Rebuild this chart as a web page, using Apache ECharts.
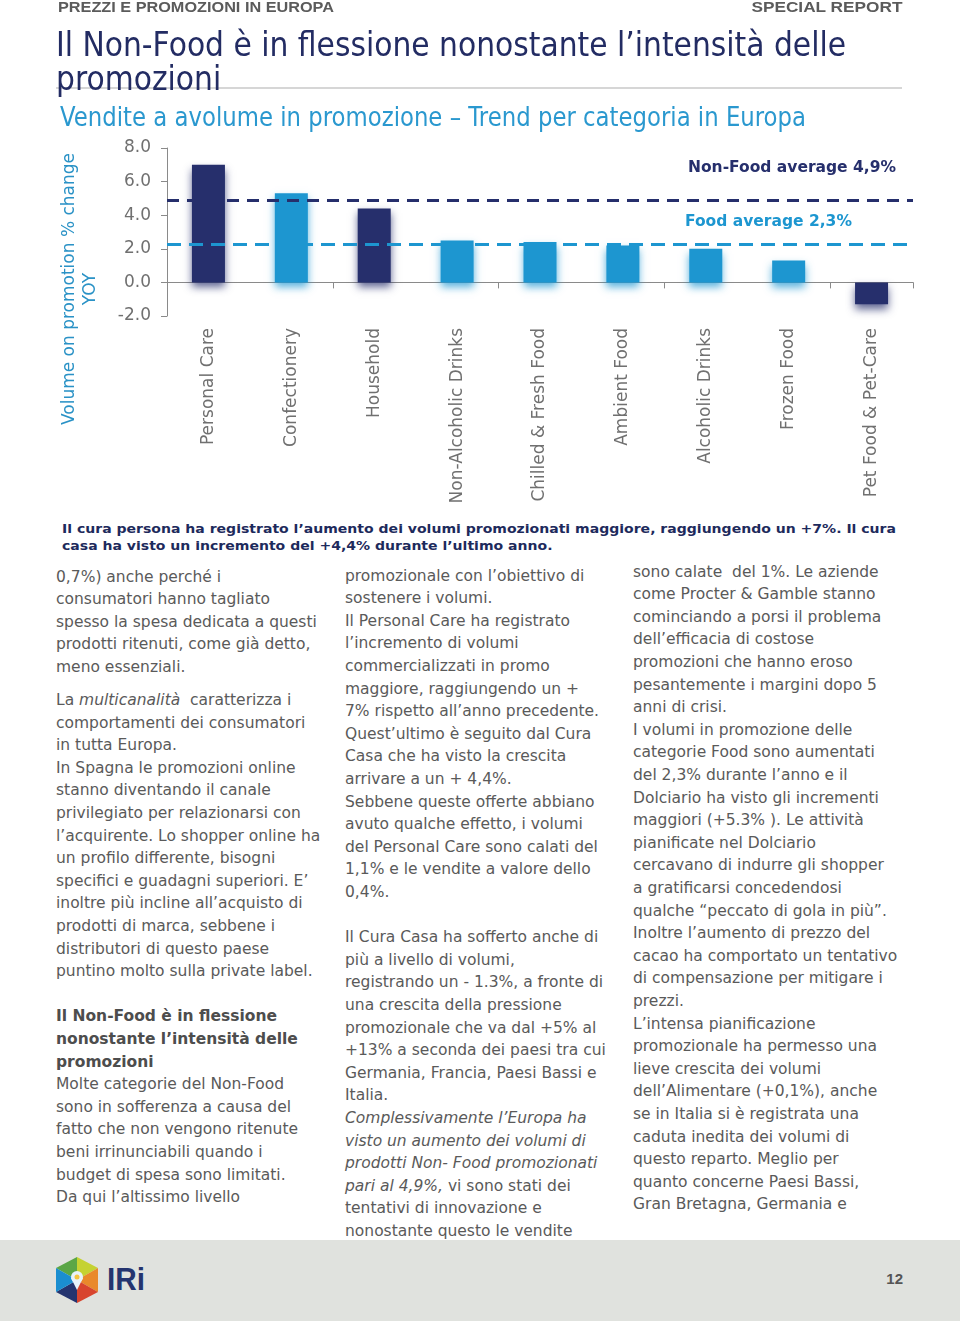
<!DOCTYPE html>
<html><head><meta charset="utf-8">
<script src="https://cdn.jsdelivr.net/npm/echarts@6/dist/echarts.min.js"></script>
<style>
html,body{margin:0;padding:0;background:#fff;}
#page{position:relative;width:960px;height:1321px;overflow:hidden;font-family:"DejaVu Sans",Verdana,sans-serif;}
#chart{position:absolute;left:0;top:0;width:960px;height:515px;}
.t{position:absolute;white-space:nowrap;}
.col{position:absolute;font-size:15.5px;line-height:22.6px;color:#5a5a5a;white-space:nowrap;}
.col b{color:#4d4d4d;}
.gap{height:10.4px;}
</style></head>
<body><div id="page">
<div id="chart"></div>

<div class="t" id="hdrL" style="left:58px;top:-1px;font:bold 15px/16px 'Liberation Sans',Arial,sans-serif;color:#5b5b5b;">PREZZI E PROMOZIONI IN EUROPA</div>
<div class="t" id="hdrR" style="right:58px;top:-1px;font:bold 15px/16px 'Liberation Sans',Arial,sans-serif;color:#5b5b5b;">SPECIAL REPORT</div>

<div style="position:absolute;left:56px;top:87px;width:846px;height:2px;background:#d6d6d6;"></div>
<div class="t" id="title1" style="left:56px;top:28px;font-size:33px;line-height:34px;color:#232c63;">Il Non-Food è in flessione nonostante l’intensità delle</div>
<div class="t" id="title2" style="left:56px;top:62px;font-size:33px;line-height:34px;color:#232c63;">promozioni</div>
<div class="t" id="subtitle" style="left:60px;top:104px;font-size:26px;line-height:26px;color:#2a98cf;">Vendite a avolume in promozione – Trend per categoria in Europa</div>

<div class="t" id="cap1" style="left:62px;top:521px;font-weight:bold;font-size:12.8px;line-height:16.5px;color:#1d2a5c;">Il cura persona ha registrato l’aumento dei volumi promozionati maggiore, raggiungendo un +7%. Il cura</div>
<div class="t" id="cap2" style="left:62px;top:537.5px;font-weight:bold;font-size:12.8px;line-height:16.5px;color:#1d2a5c;">casa ha visto un incremento del +4,4% durante l’ultimo anno.</div>

<div class="col" style="left:56px;top:565.7px;">0,7%) anche perché i<br>consumatori hanno tagliato<br>spesso la spesa dedicata a questi<br>prodotti ritenuti, come già detto,<br>meno essenziali.<div class="gap"></div>La <i>multicanalità</i>&nbsp; caratterizza i<br>comportamenti dei consumatori<br>in tutta Europa.<br>In Spagna le promozioni online<br>stanno diventando il canale<br>privilegiato per relazionarsi con<br>l’acquirente. Lo shopper online ha<br>un profilo differente, bisogni<br>specifici e guadagni superiori. E’<br>inoltre più incline all’acquisto di<br>prodotti di marca, sebbene i<br>distributori di questo paese<br>puntino molto sulla private label.<br>&nbsp;<br><b>Il Non-Food è in flessione</b><br><b>nonostante l’intensità delle</b><br><b>promozioni</b><br>Molte categorie del Non-Food<br>sono in sofferenza a causa del<br>fatto che non vengono ritenute<br>beni irrinunciabili quando i<br>budget di spesa sono limitati.<br>Da qui l’altissimo livello</div>

<div class="col" style="left:345px;top:564.7px;">promozionale con l’obiettivo di<br>sostenere i volumi.<br>Il Personal Care ha registrato<br>l’incremento di volumi<br>commercializzati in promo<br>maggiore, raggiungendo un +<br>7% rispetto all’anno precedente.<br>Quest’ultimo è seguito dal Cura<br>Casa che ha visto la crescita<br>arrivare a un + 4,4%.<br>Sebbene queste offerte abbiano<br>avuto qualche effetto, i volumi<br>del Personal Care sono calati del<br>1,1% e le vendite a valore dello<br>0,4%.<br>&nbsp;<br>Il Cura Casa ha sofferto anche di<br>più a livello di volumi,<br>registrando un - 1.3%, a fronte di<br>una crescita della pressione<br>promozionale che va dal +5% al<br>+13% a seconda dei paesi tra cui<br>Germania, Francia, Paesi Bassi e<br>Italia.<br><i>Complessivamente l’Europa ha</i><br><i>visto un aumento dei volumi di</i><br><i>prodotti Non- Food promozionati</i><br><i>pari al 4,9%,</i> vi sono stati dei<br>tentativi di innovazione e<br>nonostante questo le vendite</div>

<div class="col" style="left:633px;top:560.7px;">sono calate&nbsp; del 1%. Le aziende<br>come Procter &amp; Gamble stanno<br>cominciando a porsi il problema<br>dell’efficacia di costose<br>promozioni che hanno eroso<br>pesantemente i margini dopo 5<br>anni di crisi.<br>I volumi in promozione delle<br>categorie Food sono aumentati<br>del 2,3% durante l’anno e il<br>Dolciario ha visto gli incrementi<br>maggiori (+5.3% ). Le attività<br>pianificate nel Dolciario<br>cercavano di indurre gli shopper<br>a gratificarsi concedendosi<br>qualche “peccato di gola in più”.<br>Inoltre l’aumento di prezzo del<br>cacao ha comportato un tentativo<br>di compensazione per mitigare i<br>prezzi.<br>L’intensa pianificazione<br>promozionale ha permesso una<br>lieve crescita dei volumi<br>dell’Alimentare (+0,1%), anche<br>se in Italia si è registrata una<br>caduta inedita dei volumi di<br>questo reparto. Meglio per<br>quanto concerne Paesi Bassi,<br>Gran Bretagna, Germania e</div>

<div style="position:absolute;left:0;top:1240px;width:960px;height:81px;background:#e0e2de;"></div>
<svg style="position:absolute;left:54px;top:1255px;" width="46" height="51" viewBox="54 1255 46 51">
  <polygon points="77,1280 56,1268 77,1257" fill="#5aa646"/>
  <polygon points="77,1280 77,1257 98,1268" fill="#c5d232"/>
  <polygon points="77,1280 98,1268 98,1292" fill="#e9892b"/>
  <polygon points="77,1280 98,1292 77,1303" fill="#d8452e"/>
  <polygon points="77,1280 77,1303 56,1292" fill="#24346f"/>
  <polygon points="77,1280 56,1292 56,1268" fill="#1b8ed0"/>
  <circle cx="77" cy="1277" r="6" fill="#e8f3fa"/>
  <polygon points="71,1278 83,1278 77,1290" fill="#e8f3fa"/>
  <circle cx="77" cy="1277" r="2.5" fill="#f4c542"/>
</svg>
<div class="t" id="iri" style="left:107px;top:1264px;font:bold 31px/32px 'Liberation Sans',Arial,sans-serif;color:#24346f;">IRi</div>
<div class="t" id="pnum" style="right:57px;top:1271px;font:bold 15px/16px 'Liberation Sans',Arial,sans-serif;color:#555;">12</div>
</div>

<script>
// ---- data ----
const categories = ['Personal Care','Confectionery','Household','Non-Alcoholic Drinks','Chilled & Fresh Food','Ambient Food','Alcoholic Drinks','Frozen Food','Pet Food & Pet-Care'];
const volumeChange = [7.0, 5.3, 4.4, 2.5, 2.4, 2.2, 2.0, 1.3, -1.3];
const sectorOf = ['Non-Food','Food','Non-Food','Food','Food','Food','Food','Food','Non-Food'];
const nonFoodAverage = 4.9;
const foodAverage = 2.3;
const nonFoodLabel = 'Non-Food average 4,9%';
const foodLabel = 'Food average 2,3%';
const yAxisName = 'Volume on promotion % change\nYOY';
const yMin = -2, yMax = 8, yStep = 2;

// ---- styles ----
const NAVY = '#262f6c';
const BLUE = '#1d96d0';
const sectorColor = {'Non-Food': NAVY, 'Food': BLUE};
const FONT = 'DejaVu Sans';

// fit condensed headings
function fit(id, w, origin){
  const el = document.getElementById(id);
  const nat = el.getBoundingClientRect().width;
  const s = w / nat;
  el.style.transformOrigin = (origin || 'left') + ' top';
  el.style.transform = 'scaleX(' + s + ')';
  return s;
}
const ts = fit('title1', 790);
document.getElementById('title2').style.transformOrigin = 'left top';
document.getElementById('title2').style.transform = 'scaleX(' + ts + ')';
fit('subtitle', 746);
fit('hdrL', 276);
fit('hdrR', 151, 'right');
const cs = fit('cap1', 834);
document.getElementById('cap2').style.transformOrigin = 'left top';
document.getElementById('cap2').style.transform = 'scaleX(' + cs + ')';
fit('iri', 38);

const chart = echarts.init(document.getElementById('chart'), null, {renderer: 'canvas'});
const axisGray = '#8a8a8a';
chart.setOption({
  animation: false,
  grid: {left: 167, top: 148, width: 746, height: 168, containLabel: false},
  xAxis: [
    {
      type: 'category', data: categories, position: 'bottom',
      axisLine: {show: false, onZero: false}, axisTick: {show: false},
      axisLabel: {rotate: 90, interval: 0, margin: 12, fontSize: 17, fontFamily: FONT, color: '#707070'}
    },
    {
      type: 'category', data: categories, position: 'bottom',
      axisLine: {show: true, onZero: true, lineStyle: {color: axisGray, width: 1}},
      axisTick: {show: true, length: 6, lineStyle: {color: axisGray}},
      axisLabel: {show: false}
    }
  ],
  yAxis: {
    type: 'value', min: yMin, max: yMax, interval: yStep,
    axisLine: {show: true, lineStyle: {color: axisGray}},
    axisTick: {show: true, length: 6, lineStyle: {color: axisGray}},
    splitLine: {show: false},
    axisLabel: {formatter: v => v.toFixed(1), fontSize: 17, fontFamily: FONT, color: '#707070', margin: 16}
  },
  series: [{
    type: 'bar', xAxisIndex: 0, barWidth: 33,
    data: volumeChange.map((v, i) => ({
      value: v,
      itemStyle: {
        color: sectorColor[sectorOf[i]],
        shadowColor: sectorColor[sectorOf[i]] + 'bb',
        shadowBlur: 8, shadowOffsetY: 5
      }
    })),
    markLine: {
      silent: true, symbol: 'none', label: {show: false},
      data: [
        {yAxis: nonFoodAverage, lineStyle: {color: NAVY, type: [12, 8], width: 3}},
        {yAxis: foodAverage, lineStyle: {color: BLUE, type: [14, 8], width: 3}}
      ]
    }
  }],
  graphic: [
    {type: 'text', x: 80, y: 289, rotation: Math.PI / 2,
     style: {text: yAxisName, align: 'center', verticalAlign: 'middle', textAlign: 'center', textVerticalAlign: 'middle',
             fontSize: 17, fontFamily: FONT, fill: '#2a92c6', lineHeight: 21}},
    {type: 'text', x: 896, y: 168,
     style: {text: nonFoodLabel, textAlign: 'right', textVerticalAlign: 'middle', align: 'right', verticalAlign: 'middle',
             fontSize: 15.5, fontWeight: 'bold', fontFamily: FONT, fill: NAVY}},
    {type: 'text', x: 685, y: 222,
     style: {text: foodLabel, textAlign: 'left', textVerticalAlign: 'middle', align: 'left', verticalAlign: 'middle',
             fontSize: 15.5, fontWeight: 'bold', fontFamily: FONT, fill: BLUE}}
  ]
});
</script>
</body></html>
